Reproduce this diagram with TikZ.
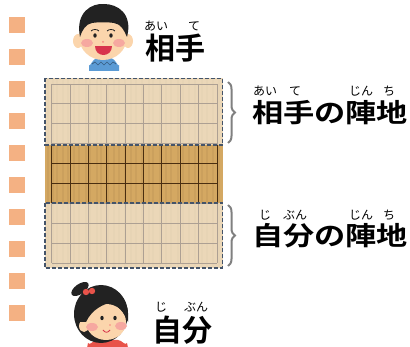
\documentclass[tikz,border=0pt]{standalone}
\usepackage{fontspec}
\newfontfamily\jp{Noto Sans CJK JP}[BoldFont={* Bold}]
\usetikzlibrary{decorations.pathreplacing}

\definecolor{rowmark}{HTML}{F4B183}
\definecolor{wood}{HTML}{D4A862}
\definecolor{woodline}{HTML}{4A2E10}
\definecolor{zoneline}{HTML}{44546A}
\definecolor{skin}{HTML}{FBD5AC}
\definecolor{cheek}{HTML}{F6A8A0}
\definecolor{hair}{HTML}{222222}
\definecolor{mouth}{HTML}{D8344C}
\definecolor{shirtblue}{HTML}{5B9BD5}
\definecolor{shirtred}{HTML}{E8534A}

\tikzset{
  rowsq/.style={fill=rowmark, minimum size=16pt, inner sep=0pt},
  bigword/.style={font=\jp\bfseries\fontsize{30}{30}\selectfont, inner sep=0pt},
  sideword/.style={font=\jp\bfseries\fontsize{26}{26}\selectfont, inner sep=0pt, xscale=1.2},
  ruby/.style={font=\jp\fontsize{12}{12}\selectfont, inner sep=0pt},
  zone/.style={draw=zoneline, line width=1.2pt, dash pattern=on 4pt off 2pt},
  bracket/.style={draw=gray, line width=2pt, decorate, decoration={brace, amplitude=7pt}},
  gridline/.style={draw=woodline, line width=0.9pt},
  grain/.style={draw=woodline, opacity=0.06, line width=1.2pt}
}

\begin{document}
\begin{tikzpicture}[x=1pt, y=-1pt]
  \useasboundingbox (0,0) rectangle (410,347);

  \foreach \k in {0,...,9}
    \node[rowsq] (sq\k) at (17, 25.5+32*\k) {};

  % board
  \fill[wood] (45,78) rectangle (222.5,268);
  \foreach \g in {48,53,57,63,68,74,79,86,90,97,101,108,114,119,125,131,136,142,149,153,160,166,171,178,183,189,195,202,207,213,219}
    \draw[grain] (\g,78) -- (\g,268);
  \foreach \i in {0,...,9}
    \draw[gridline] (51.7+18.37*\i,84) -- (51.7+18.37*\i,263.1);
  \foreach \j in {0,...,9}
    \draw[gridline] (51.7,84+19.9*\j) -- (217,84+19.9*\j);
  \fill[white, opacity=0.55] (45,78) rectangle (222.5,145);
  \fill[white, opacity=0.55] (45,203) rectangle (222.5,268);
  \draw[zone] (45,78.5) rectangle (222.5,145);
  \draw[zone] (45,203) rectangle (222.5,268);

  \coordinate (ttop) at (228,82);
  \coordinate (tbot) at (228,143);
  \coordinate (btop) at (228,205);
  \coordinate (bbot) at (228,266);
  \draw[bracket] (ttop) -- (tbot);
  \draw[bracket] (btop) -- (bbot);

  % boy
  \fill[shirtblue] (89,71) -- (89,65) to[out=-90,in=180] (97,58) -- (111,58) to[out=0,in=-90] (119,65) -- (119,71) -- cycle;
  \draw[shirtblue!60!black, line width=0.7pt] (92,64) -- (95,62) -- (98,65) -- (101,62) -- (104,65) -- (107,62) -- (110,65) -- (113,62) -- (116,64);
  \fill[skin] (99,54) rectangle (108,59);
  \fill[skin] (78,41) ellipse (5 and 7);
  \fill[skin] (128,41) ellipse (5 and 7);
  \fill[skin] (103,37) ellipse (24 and 23);
  \fill[cheek] (87,43) ellipse (6 and 4);
  \fill[cheek] (119,43) ellipse (6 and 4);
  \fill[hair] (80,37) .. controls (75,12) and (92,3) .. (104,4)
    .. controls (118,4) and (133,14) .. (127,37)
    .. controls (124,30) and (121,24) .. (114,23)
    .. controls (108,22) and (98,22) .. (92,23)
    .. controls (86,24) and (82,30) .. (80,37) -- cycle;
  \draw[hair, line width=0.8pt] (91,31) .. controls (93,29) and (97,29) .. (99,31);
  \draw[hair, line width=0.8pt] (107,31) .. controls (109,29) and (113,29) .. (115,31);
  \fill[hair] (95,35.5) ellipse (1.7 and 2.2);
  \fill[hair] (111,35.5) ellipse (1.7 and 2.2);
  \fill[cheek!80!red] (103,42) circle (1);
  \fill[mouth] (95,46) .. controls (95,58) and (112,58) .. (112,46) -- cycle;

  % girl
  \fill[shirtred] (87,348) -- (88,343) to[out=-60,in=180] (97,340) -- (118,340) to[out=0,in=-120] (127,343) -- (128,348) -- cycle;
  \fill[hair] (101,314) ellipse (27 and 29);
  \fill[hair, rotate around={35:(80,289)}] (80,289) ellipse (10 and 5);
  \fill[skin] (84,326) ellipse (5 and 6);
  \fill[skin] (106,322) ellipse (20 and 18);
  \fill[cheek] (92,327) ellipse (6 and 4);
  \fill[cheek] (121,326) ellipse (6 and 4);
  \fill[hair] (80,322) .. controls (78,296) and (96,286) .. (106,287)
    .. controls (118,288) and (130,300) .. (128,322)
    .. controls (124,312) and (118,305) .. (110,303)
    .. controls (104,304) and (92,309) .. (86,322) -- cycle;
  \fill[shirtred] (86,292) circle (3.2);
  \fill[shirtred] (92,291) circle (3.2);
  \fill[hair] (102,318) ellipse (1.7 and 2.2);
  \fill[hair] (115,318) ellipse (1.7 and 2.2);
  \fill[cheek!80!red] (110,325) circle (0.9);
  \draw[mouth, line width=0.8pt] (103,330) .. controls (105,333) and (108,333) .. (110,330);

  % labels
  \node[bigword] (rival) at (175,48) {相手};
  \node[ruby] (rivalA) at (156,26) {あい};
  \node[ruby] (rivalB) at (194,26) {て};
  \node[bigword] (self) at (182,330) {自分};
  \node[ruby] (selfA) at (161,307) {じ};
  \node[ruby] (selfB) at (196,307) {ぶん};

  \node[sideword] (rivalzone) at (330,113) {相手の陣地};
  \node[ruby] (rivalzoneA) at (265,91.5) {あい};
  \node[ruby] (rivalzoneB) at (295,91.5) {て};
  \node[ruby] (rivalzoneC) at (361,91.5) {じん};
  \node[ruby] (rivalzoneD) at (389,91.5) {ち};
  \node[sideword] (selfzone) at (330,236) {自分の陣地};
  \node[ruby] (selfzoneA) at (265,215) {じ};
  \node[ruby] (selfzoneB) at (295,215) {ぶん};
  \node[ruby] (selfzoneC) at (361,215) {じん};
  \node[ruby] (selfzoneD) at (389,215) {ち};
\end{tikzpicture}
\end{document}
